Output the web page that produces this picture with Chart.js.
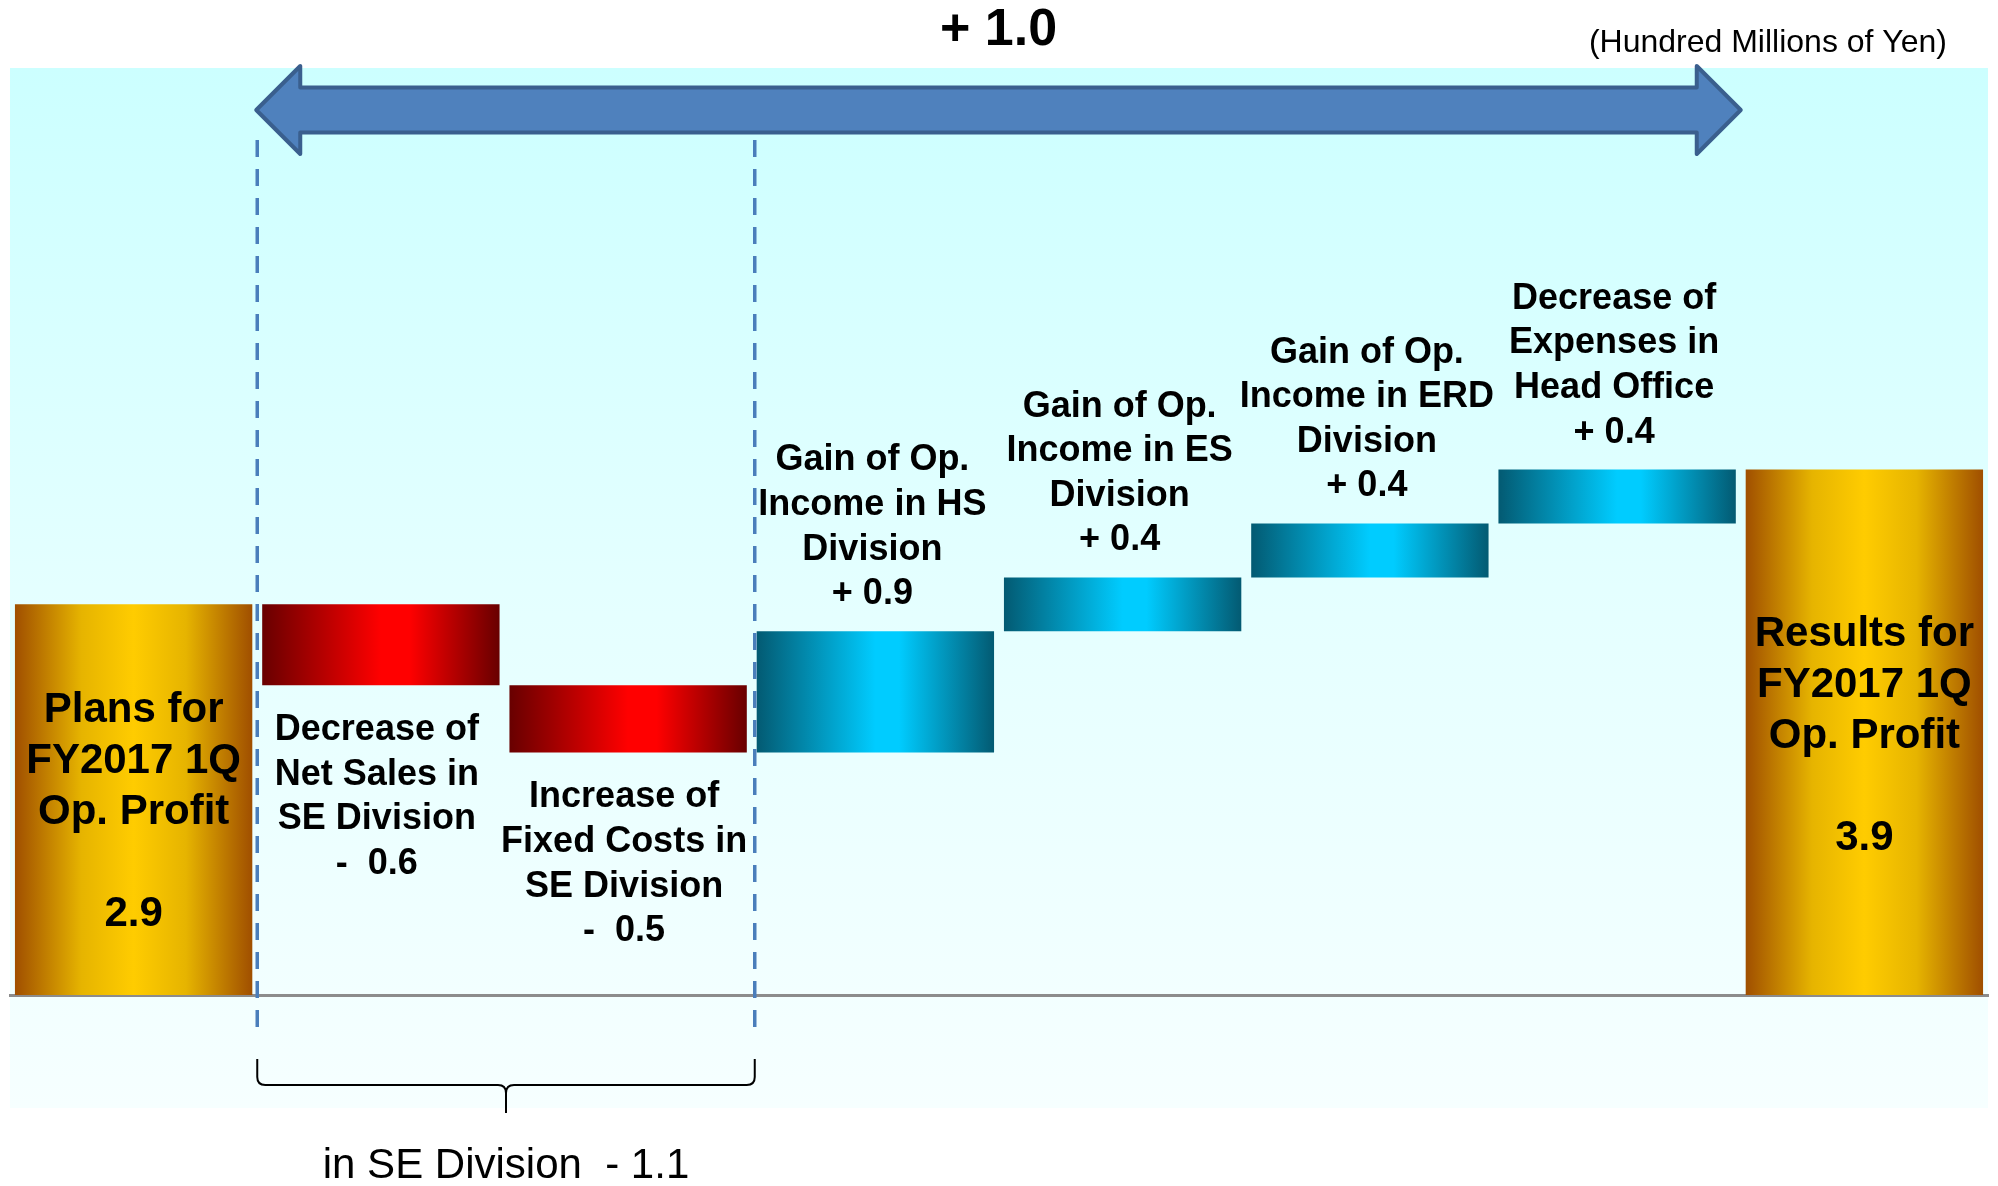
<!DOCTYPE html>
<html>
<head>
<meta charset="utf-8">
<script src="https://cdn.jsdelivr.net/npm/chart.js@4.4.1/dist/chart.umd.min.js"></script>
<style>
  html, body { margin: 0; padding: 0; background: #fff; }
  #wrap { width: 1998px; height: 1186px; }
</style>
</head>
<body>
<div id="wrap"><canvas id="bridge" width="1998" height="1186"></canvas></div>
<script>
// categories, one array of text lines per bar
const categories = [
  ['Plans for', 'FY2017 1Q', 'Op. Profit'],
  ['Decrease of', 'Net Sales in', 'SE Division'],
  ['Increase of', 'Fixed Costs in', 'SE Division'],
  ['Gain of Op.', 'Income in HS', 'Division'],
  ['Gain of Op.', 'Income in ES', 'Division'],
  ['Gain of Op.', 'Income in ERD', 'Division'],
  ['Decrease of', 'Expenses in', 'Head Office'],
  ['Results for', 'FY2017 1Q', 'Op. Profit']
];
const values = [2.9, -0.6, -0.5, 0.9, 0.4, 0.4, 0.4, 3.9];
const isTotal = [true, false, false, false, false, false, false, true];
const unitText = '(Hundred Millions of Yen)';
const seText = 'in SE Division';
const seItems = [1, 2];       // bars under the brace
const arrowItems = [1, 6];    // bars spanned by the big arrow

const FONT = '"Liberation Sans", Arial, sans-serif';

// waterfall ranges
let running = 0;
const ranges = values.map((v, i) => {
  if (isTotal[i]) { running = v; return [0, v]; }
  const start = running;
  running = Math.round((running + v) * 10) / 10;
  return [start, running];
});

function fmtChange(v) {
  return v < 0 ? '-  ' + Math.abs(v).toFixed(1) : '+ ' + v.toFixed(1);
}

const stops = {
  gold: [[0, '#a04f00'], [0.28, '#e6b400'], [0.5, '#ffcc00'], [0.72, '#e6b400'], [1, '#a04f00']],
  red: [[0, '#680000'], [0.5, '#ff0000'], [0.62, '#ff0000'], [1, '#680000']],
  blue: [[0, '#035a72'], [0.5, '#00ccff'], [0.6, '#00ccff'], [1, '#035a72']]
};

function barFill(ctx) {
  const chart = ctx.chart;
  if (!chart.chartArea || ctx.dataIndex === undefined) return '#ffcc00';
  const i = ctx.dataIndex;
  const xs = chart.scales.x;
  const cx = xs.getPixelForValue(i);
  const half = xs.width / categories.length * 0.96 / 2;
  const g = chart.ctx.createLinearGradient(cx - half, 0, cx + half, 0);
  const kind = isTotal[i] ? 'gold' : (values[i] < 0 ? 'red' : 'blue');
  stops[kind].forEach(s => g.addColorStop(s[0], s[1]));
  return g;
}

// light cyan panel behind the chart
const panelPlugin = {
  id: 'panel',
  beforeDraw(chart) {
    const c = chart.ctx;
    const a = chart.chartArea;
    const g = c.createLinearGradient(0, 68, 0, 1108);
    g.addColorStop(0, '#ccffff');
    g.addColorStop(0.5, '#e4ffff');
    g.addColorStop(1, '#f6ffff');
    c.save();
    c.fillStyle = g;
    c.fillRect(a.left, 68, a.right - a.left, 1108 - 68);
    c.restore();
  }
};

function boundary(chart, i) {
  const xs = chart.scales.x;
  return xs.getPixelForValue(i) + xs.width / categories.length / 2;
}

const decorPlugin = {
  id: 'decor',
  afterDatasetsDraw(chart) {
    const c = chart.ctx;
    const meta = chart.getDatasetMeta(0);
    c.save();
    c.fillStyle = '#000';
    c.textAlign = 'center';
    c.textBaseline = 'middle';

    meta.data.forEach((bar, i) => {
      const top = Math.min(bar.y, bar.base);
      const bottom = Math.max(bar.y, bar.base);
      const lines = categories[i];
      if (isTotal[i]) {
        c.font = 'bold 42px ' + FONT;
        const all = lines.concat(['', values[i].toFixed(1)]);
        const mid = top + (bottom - top) * 0.44 + 36;
        all.forEach((t, k) => c.fillText(t, bar.x, mid + (k - 2) * 51));
      } else {
        c.font = 'bold 36px ' + FONT;
        const all = lines.concat([fmtChange(values[i])]);
        if (values[i] < 0) {
          all.forEach((t, k) => c.fillText(t, bar.x - 4, bottom + 45 + k * 44.6));
        } else {
          all.forEach((t, k) => c.fillText(t, bar.x - 3, top - 37 - (all.length - 1 - k) * 44.6));
        }
      }
    });

    // dashed guides around the SE division items
    const seL = boundary(chart, seItems[0] - 1);
    const seR = boundary(chart, seItems[1]) + 3;
    c.strokeStyle = '#4a7ebb';
    c.lineWidth = 3.5;
    c.setLineDash([17, 12]);
    [seL, seR].forEach(x => {
      c.beginPath();
      c.moveTo(x, 140);
      c.lineTo(x, 1032);
      c.stroke();
    });
    c.setLineDash([]);

    // double-headed arrow
    const aL = boundary(chart, arrowItems[0] - 1) - 1;
    const aR = boundary(chart, arrowItems[1]);
    const cy = 110, sh = 22.5, hh = 44, hl = 44;
    c.beginPath();
    c.moveTo(aL, cy);
    c.lineTo(aL + hl, cy - hh);
    c.lineTo(aL + hl, cy - sh);
    c.lineTo(aR - hl, cy - sh);
    c.lineTo(aR - hl, cy - hh);
    c.lineTo(aR, cy);
    c.lineTo(aR - hl, cy + hh);
    c.lineTo(aR - hl, cy + sh);
    c.lineTo(aL + hl, cy + sh);
    c.lineTo(aL + hl, cy + hh);
    c.closePath();
    c.fillStyle = '#4f81bd';
    c.fill();
    c.strokeStyle = '#3a5f8e';
    c.lineWidth = 4;
    c.lineJoin = 'round';
    c.stroke();

    // total change over the arrow
    const first = values[0];
    const last = values[values.length - 1];
    c.fillStyle = '#000';
    c.font = 'bold 52px ' + FONT;
    c.fillText(fmtChange(Math.round((last - first) * 10) / 10), (aL + aR) / 2, 31);

    c.font = '32px ' + FONT;
    c.textAlign = 'right';
    c.fillText(unitText, 1947, 43);

    // brace under the SE division items
    const bm = (seL + seR) / 2;
    const by = 1085, r = 8;
    c.strokeStyle = '#000';
    c.lineWidth = 2;
    c.beginPath();
    c.moveTo(seL, 1059);
    c.lineTo(seL, by - r);
    c.quadraticCurveTo(seL, by, seL + r, by);
    c.lineTo(bm - r, by);
    c.quadraticCurveTo(bm, by, bm, by + r);
    c.lineTo(bm, 1113);
    c.moveTo(bm, by + r);
    c.quadraticCurveTo(bm, by, bm + r, by);
    c.lineTo(seR - r, by);
    c.quadraticCurveTo(seR, by, seR, by - r);
    c.lineTo(seR, 1059);
    c.stroke();

    const seSum = seItems.reduce((s, i) => s + values[i], 0);
    c.textAlign = 'center';
    c.font = '42px ' + FONT;
    c.fillText(seText + '  - ' + Math.abs(seSum).toFixed(1), bm, 1166);
    c.restore();
  }
};

new Chart(document.getElementById('bridge'), {
  type: 'bar',
  data: {
    labels: categories,
    datasets: [{
      data: ranges,
      backgroundColor: barFill,
      borderWidth: 0,
      categoryPercentage: 1,
      barPercentage: 0.96
    }]
  },
  options: {
    responsive: false,
    animation: false,
    layout: { padding: { top: 52, bottom: 191, left: 10, right: 10 } },
    plugins: {
      legend: { display: false },
      tooltip: { enabled: false }
    },
    scales: {
      x: {
        ticks: { display: false },
        grid: { display: false, drawTicks: false },
        border: { display: true, color: '#8c8c8c', width: 3 }
      },
      y: {
        display: false,
        min: 0,
        max: 7
      }
    }
  },
  plugins: [panelPlugin, decorPlugin]
});
</script>
</body>
</html>
